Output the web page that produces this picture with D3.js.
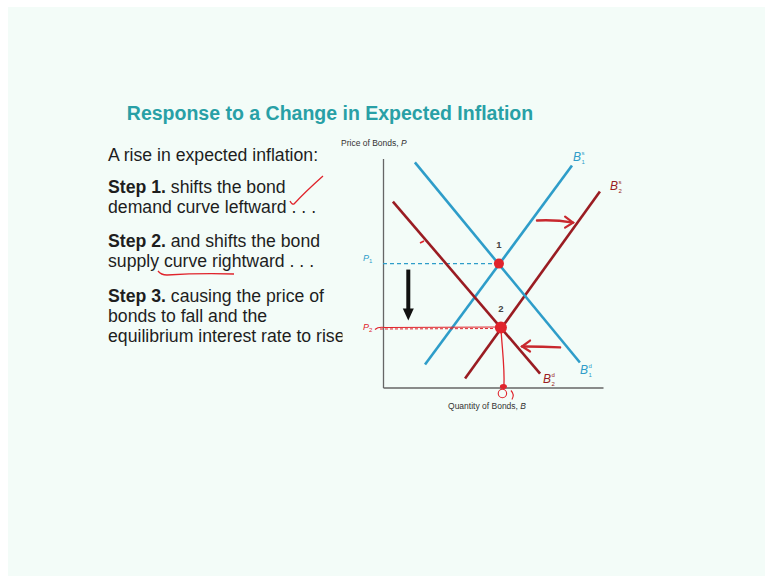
<!DOCTYPE html>
<html><head><meta charset="utf-8">
<script src="https://cdn.jsdelivr.net/npm/d3@7"></script>
<style>html,body{margin:0;padding:0;background:#fff;} svg{display:block;}</style>
</head><body>
<svg id="chart" width="765" height="576"></svg>
<script>
// Bond market curves as [quantity, price] endpoints
const demandInitial = [[1.45, 9.83], [8.95, 1.09]];
const supplyInitial = [[1.91, 1.00], [8.59, 9.69]];
const demandShifted = [[0.45, 8.12], [7.14, 0.61]];
const supplyShifted = [[3.73, 0.39], [9.86, 8.56]];

// Equilibrium points
const equilibriumNames = ["1", "2"];
const equilibriumQ = [5.27, 5.36];
const equilibriumP = [5.41, 2.62];

// Price axis labels (P with subscript)
const priceTickLabels = ["1", "2"];

// Curve labels: B with superscript / subscript
const curveSup = ["s", "s", "d", "d"];
const curveSub = ["1", "2", "1", "2"];

// Slide text
const titleText = "Response to a Change in Expected Inflation";
const introText = "A rise in expected inflation:";
const stepHeads = ["Step 1.", "Step 2.", "Step 3."];
const stepLines = [
  [" shifts the bond", "demand curve leftward . . ."],
  [" and shifts the bond", "supply curve rightward . . ."],
  [" causing the price of", "bonds to fall and the", "equilibrium interest rate to rise"]
];

const svg = d3.select("#chart");
const W = 765, H = 576;
const FONT = "'Liberation Sans', Arial, sans-serif";

const BLUE = "#2e9dc9", DARK_RED = "#9a1c22", INK_RED = "#e0242c";

// Slide background
svg.append("rect").attr("width", W).attr("height", H).attr("fill", "#ffffff");
svg.append("rect").attr("x", 8).attr("y", 7).attr("width", W - 8).attr("height", H - 7).attr("fill", "#f3fcf8");

// Title
svg.append("text")
  .attr("x", 330).attr("y", 119.5)
  .attr("text-anchor", "middle")
  .attr("font-family", FONT).attr("font-weight", "bold").attr("font-size", 19.5)
  .attr("fill", "#28a0a6")
  .text(titleText);

// Left text block (slightly narrow lettering), clipped at the chart edge
svg.append("clipPath").attr("id", "textClip").append("rect").attr("x", 0).attr("y", 0).attr("width", 342.5).attr("height", H);
const textX = 108;
const textOuter = svg.append("g").attr("clip-path", "url(#textClip)");
const textG = textOuter.append("g")
  .attr("transform", `translate(${textX},0) scale(0.955,1) translate(${-textX},0)`)
  .attr("font-family", FONT).attr("font-size", 18.5).attr("fill", "#1e1e1e");
textG.append("text").attr("x", textX).attr("y", 161).text(introText);
const stepBase = [193, 247, 302];
const lineGap = 20;
stepHeads.forEach((head, i) => {
  const lines = stepLines[i];
  const t = textG.append("text").attr("x", textX).attr("y", stepBase[i]);
  t.append("tspan").attr("font-weight", "bold").text(head);
  t.append("tspan").text(lines[0]);
  lines.slice(1).forEach((ln, j) => {
    textG.append("text").attr("x", textX).attr("y", stepBase[i] + lineGap * (j + 1)).text(ln);
  });
});

// Chart scales
const x = d3.scaleLinear().domain([0, 10]).range([383, 603]);
const y = d3.scaleLinear().domain([0, 10]).range([387.5, 158.5]);

const chart = svg.append("g");

// Axes: bare lines without ticks
chart.append("g").attr("transform", `translate(${x(0)},0)`)
  .call(d3.axisLeft(y).ticks(0).tickSizeOuter(0))
  .call(g => g.select(".domain").attr("stroke", "#666").attr("stroke-width", 1.3));
chart.append("g").attr("transform", `translate(0,${y(0)})`)
  .call(d3.axisBottom(x).ticks(0).tickSizeOuter(0))
  .call(g => g.select(".domain").attr("stroke", "#666").attr("stroke-width", 1.3));

// Axis titles
const axisTitle = (tx, ty, main, ital, anchor) => {
  const t = chart.append("text").attr("x", tx).attr("y", ty)
    .attr("font-family", FONT).attr("font-size", 8.5).attr("fill", "#333").attr("text-anchor", anchor);
  t.append("tspan").text(main);
  t.append("tspan").attr("font-style", "italic").text(ital);
};
axisTitle(341, 146, "Price of Bonds, ", "P", "start");
axisTitle(487, 409, "Quantity of Bonds, ", "B", "middle");

// P1 dashed guide
chart.append("line")
  .attr("x1", x(0)).attr("x2", x(equilibriumQ[0]))
  .attr("y1", y(equilibriumP[0])).attr("y2", y(equilibriumP[0]))
  .attr("stroke", BLUE).attr("stroke-width", 1.2).attr("stroke-dasharray", "4,3");

// Curves
const line = d3.line().x(d => x(d[0])).y(d => y(d[1]));
const curves = [supplyInitial, supplyShifted, demandInitial, demandShifted];
const curveColors = [BLUE, DARK_RED, BLUE, DARK_RED];
curves.forEach((c, i) => {
  chart.append("path").attr("d", line(c)).attr("fill", "none")
    .attr("stroke", curveColors[i]).attr("stroke-width", 2.6);
});

// Curve labels placed near the end of each curve
const labelEnds = [supplyInitial[1], supplyShifted[1], demandInitial[1], demandShifted[1]];
const labelOffsets = [[1, -5], [10, -1], [0, 11], [3, 9]];
labelEnds.forEach((e, i) => {
  const lx = x(e[0]) + labelOffsets[i][0], ly = y(e[1]) + labelOffsets[i][1];
  const g = chart.append("g").attr("font-family", FONT).attr("fill", curveColors[i]);
  g.append("text").attr("x", lx).attr("y", ly).attr("font-size", 12).attr("font-style", "italic").text("B");
  g.append("text").attr("x", lx + 8.5).attr("y", ly - 6).attr("font-size", 6).text(curveSup[i]);
  g.append("text").attr("x", lx + 8.5).attr("y", ly + 3).attr("font-size", 6).text(curveSub[i]);
});

// Price level labels P1, P2
priceTickLabels.forEach((s, i) => {
  const t = chart.append("text").attr("x", 363).attr("y", y(equilibriumP[i]) + (i === 0 ? -3 : 2))
    .attr("font-family", FONT).attr("font-size", 9).attr("font-style", "italic")
    .attr("fill", i === 0 ? BLUE : INK_RED);
  t.append("tspan").text("P");
  t.append("tspan").attr("font-size", 6).attr("dy", 2).attr("font-style", "normal").text(s);
});

// Hand-drawn P2 guide (red, doubled stroke)
const p2y = y(equilibriumP[1]);
chart.append("path")
  .attr("d", `M375,${p2y + 2} Q378,${p2y - 1} 385,${p2y} L${x(equilibriumQ[1])},${p2y - 0.5}`)
  .attr("fill", "none").attr("stroke", INK_RED).attr("stroke-width", 1.2);
chart.append("line")
  .attr("x1", 380).attr("x2", x(equilibriumQ[1])).attr("y1", p2y + 1.5).attr("y2", p2y + 1)
  .attr("stroke", INK_RED).attr("stroke-width", 1).attr("stroke-dasharray", "3,2");

// Black downward arrow showing the fall in price
const arrowQ = 1.15, arrowTop = 5.15, arrowBottom = 2.93;
chart.append("line")
  .attr("x1", x(arrowQ)).attr("x2", x(arrowQ))
  .attr("y1", y(arrowTop)).attr("y2", y(arrowBottom) - 10)
  .attr("stroke", "#111").attr("stroke-width", 4);
chart.append("path")
  .attr("d", `M${x(arrowQ) - 5.5},${y(arrowBottom) - 12} L${x(arrowQ) + 5.5},${y(arrowBottom) - 12} L${x(arrowQ)},${y(arrowBottom)} Z`)
  .attr("fill", "#111");

// Equilibrium numbers
equilibriumNames.forEach((n, i) => {
  chart.append("text").attr("x", x(equilibriumQ[i])).attr("y", y(equilibriumP[i]) - 16)
    .attr("text-anchor", "middle").attr("font-family", FONT).attr("font-size", 9.5).attr("font-weight", "bold")
    .attr("fill", "#444").text(n);
});

// Hand-drawn drop line from point 2 to the quantity axis
const q2x = x(equilibriumQ[1]);
chart.append("path")
  .attr("d", `M${q2x},${p2y} C${q2x + 1},${p2y + 20} ${q2x + 4},${p2y + 40} ${q2x + 3},${y(0) - 1}`)
  .attr("fill", "none").attr("stroke", INK_RED).attr("stroke-width", 1.3);
chart.append("ellipse").attr("cx", q2x + 2.5).attr("cy", y(0) - 1).attr("rx", 3.5).attr("ry", 2.5).attr("fill", INK_RED);
chart.append("circle").attr("cx", q2x + 1.5).attr("cy", y(0) + 6).attr("r", 4.2)
  .attr("fill", "none").attr("stroke", INK_RED).attr("stroke-width", 1.1);
chart.append("path").attr("d", `M${q2x + 10},${y(0) + 3} Q${q2x + 14},${y(0) + 7} ${q2x + 11},${y(0) + 12}`)
  .attr("fill", "none").attr("stroke", INK_RED).attr("stroke-width", 1.1);

// Equilibrium points
equilibriumNames.forEach((n, i) => {
  chart.append("circle").attr("cx", x(equilibriumQ[i])).attr("cy", y(equilibriumP[i]))
    .attr("r", i === 0 ? 5 : 6).attr("fill", INK_RED);
});

// Hand-drawn shift arrows
const shiftArrow = (q1, p1, q2, p2, dir) => {
  const x1 = x(q1), y1 = y(p1), x2 = x(q2), y2 = y(p2);
  chart.append("path").attr("d", `M${x1},${y1} Q${(x1 + x2) / 2},${y1 - 1} ${x2},${y2}`)
    .attr("fill", "none").attr("stroke", "#c8282e").attr("stroke-width", 2.4).attr("stroke-linecap", "round");
  chart.append("path").attr("d", `M${x2 - dir * 8},${y2 - 6} L${x2},${y2} L${x2 - dir * 8},${y2 + 5}`)
    .attr("fill", "none").attr("stroke", "#c8282e").attr("stroke-width", 2.2).attr("stroke-linecap", "round");
};
shiftArrow(7.0, 7.29, 8.64, 7.2, 1);
shiftArrow(8.05, 1.75, 6.32, 1.79, -1);

// Small ink tick on the shifted demand curve
chart.append("line").attr("x1", 420).attr("y1", 243).attr("x2", 424).attr("y2", 241)
  .attr("stroke", INK_RED).attr("stroke-width", 1.6);

// Ink marks on the text: check mark and underline
svg.append("path").attr("d", "M290,201 Q292,205 294,204 Q305,192 323,176")
  .attr("fill", "none").attr("stroke", INK_RED).attr("stroke-width", 1.3);
svg.append("path").attr("d", "M158,271 Q161,275 167,275 Q200,273 234,274")
  .attr("fill", "none").attr("stroke", INK_RED).attr("stroke-width", 1.3);
</script>
</body></html>
